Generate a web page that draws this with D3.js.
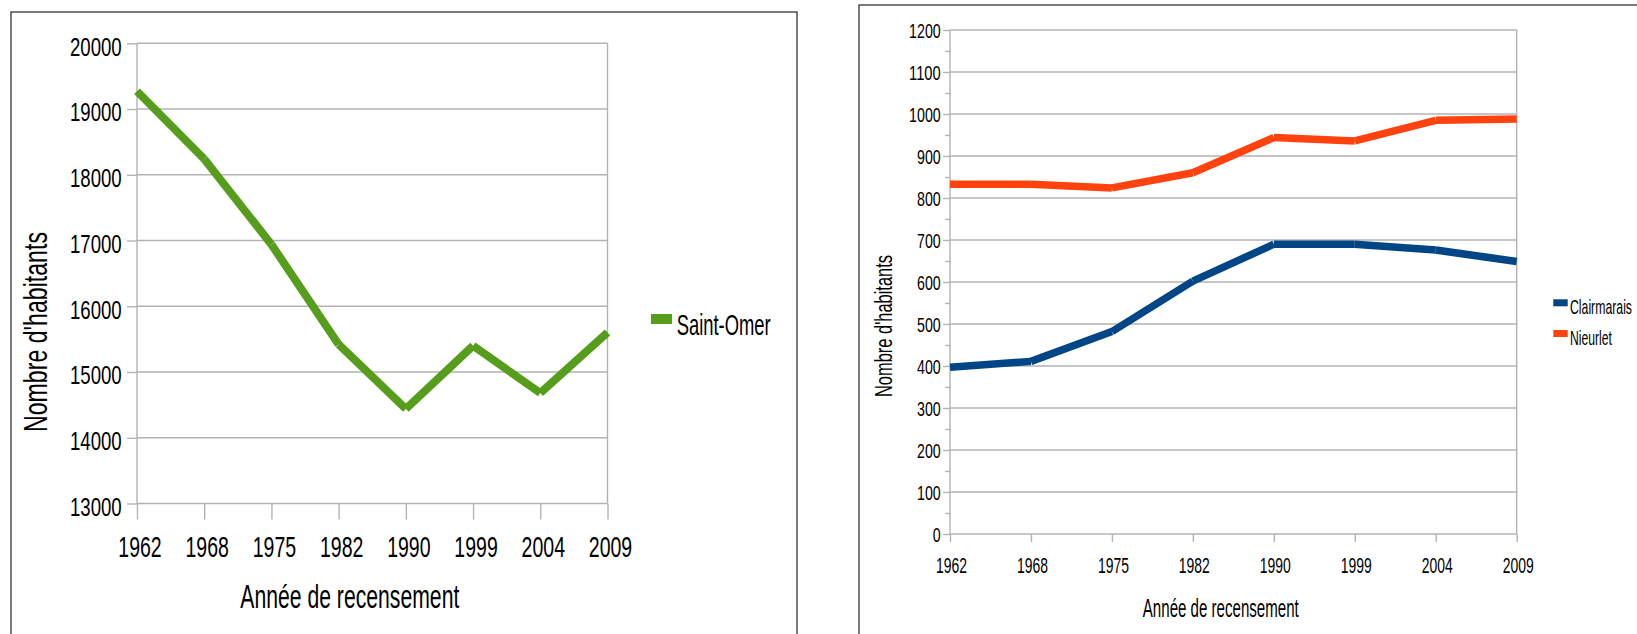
<!DOCTYPE html>
<html><head><meta charset="utf-8">
<script src="https://cdn.jsdelivr.net/npm/d3@7/dist/d3.min.js"></script>
<style>
body{margin:0;background:#fff}
svg{display:block}
text{font-family:"Liberation Sans",Arial,sans-serif;fill:#000}
</style>
</head><body>
<svg id="c" width="1637" height="634"></svg>
<script>
// ---------- data ----------
const years = ["1962","1968","1975","1982","1990","1999","2004","2009"];
const saintOmer = [19270, 18240, 16940, 15420, 14440, 15400, 14680, 15600];
const clairmarais = [397, 411, 482, 602, 690, 690, 676, 649];
const nieurlet = [833, 833, 824, 860, 944, 936, 985, 988];
const leftTicks = [13000, 14000, 15000, 16000, 17000, 18000, 19000, 20000];
const rightTicks = [0, 100, 200, 300, 400, 500, 600, 700, 800, 900, 1000, 1100, 1200];
const rightMinor = [50, 150, 250, 350, 450, 550, 650, 750, 850, 950, 1050, 1150];
const xTitle = "Année de recensement";
const yTitle = "Nombre d'habitants";
const seriesLeft = [{name: "Saint-Omer", values: saintOmer, color: "#579d1c"}];
const seriesRight = [
  {name: "Clairmarais", values: clairmarais, color: "#004586"},
  {name: "Nieurlet", values: nieurlet, color: "#ff420e"}
];

const svg = d3.select("#c");
const GRID = "#b3b3b3";

function label(g, str, x, y, size, len, rotate) {
  const t = g.append("text")
    .attr("x", x).attr("y", y)
    .attr("font-size", size)
    .attr("textLength", len)
    .attr("lengthAdjust", "spacingAndGlyphs")
    .text(str);
  if (rotate) t.attr("transform", `rotate(-90 ${x} ${y})`);
  return t;
}

function panel(cfg) {
  const g = svg.append("g");
  // frame
  g.append("rect").attr("x", cfg.frame[0]).attr("y", cfg.frame[1])
    .attr("width", cfg.frame[2]).attr("height", cfg.frame[3])
    .attr("fill", "none").attr("stroke", "#222").attr("stroke-width", 1.2);

  const x = d3.scalePoint().domain(years).range([cfg.x0, cfg.x1]).padding(0);
  const y = d3.scaleLinear().domain(cfg.domain).range([cfg.yb, cfg.yt]);

  // gridlines
  g.append("g").selectAll("line").data(cfg.ticks).join("line")
    .attr("x1", cfg.x0).attr("x2", cfg.x1)
    .attr("y1", d => y(d)).attr("y2", d => y(d))
    .attr("stroke", GRID).attr("stroke-width", 1.4);

  // left axis ticks
  const ay = g.append("g").attr("transform", `translate(${cfg.x0},0)`)
    .call(d3.axisLeft(y).tickValues(cfg.ticks).tickSize(cfg.majorTick).tickFormat(""));
  ay.select(".domain").remove();
  ay.selectAll("line").attr("stroke", GRID).attr("stroke-width", 1.4);
  if (cfg.minor) {
    const am = g.append("g").attr("transform", `translate(${cfg.x0},0)`)
      .call(d3.axisLeft(y).tickValues(cfg.minor).tickSize(cfg.minorTick).tickFormat(""));
    am.select(".domain").remove();
    am.selectAll("line").attr("stroke", GRID).attr("stroke-width", 1.4);
  }
  // bottom axis ticks (category boundaries)
  const ax = g.append("g").attr("transform", `translate(0,${cfg.yb})`)
    .call(d3.axisBottom(x).tickSize(cfg.xTick).tickFormat(""));
  ax.select(".domain").remove();
  ax.selectAll("line").attr("stroke", GRID).attr("stroke-width", 1.4);
  // vertical plot edges
  g.append("line").attr("x1", cfg.x0).attr("x2", cfg.x0).attr("y1", cfg.yt).attr("y2", cfg.yb)
    .attr("stroke", GRID).attr("stroke-width", 1.4);
  g.append("line").attr("x1", cfg.x1).attr("x2", cfg.x1).attr("y1", cfg.yt).attr("y2", cfg.yb)
    .attr("stroke", GRID).attr("stroke-width", 1.4);

  // y labels
  cfg.ticks.forEach(v => {
    const s = String(v);
    const len = s.length * cfg.yDigit;
    label(g, s, cfg.yLabRight - len, y(v) + cfg.yLabDy, cfg.yLabSize, len);
  });
  // x labels
  years.forEach(yr => {
    const len = yr.length * cfg.xDigit;
    label(g, yr, x(yr) + cfg.xLabDx - len / 2, cfg.xLabBase, cfg.xLabSize, len);
  });

  // series lines (segment by segment, butt ends)
  const line = d3.line();
  cfg.series.forEach(s => {
    const pts = years.map((yr, i) => [x(yr), y(s.values[i])]);
    g.append("g").selectAll("path").data(d3.pairs(pts)).join("path")
      .attr("d", d => line(d))
      .attr("fill", "none").attr("stroke", s.color)
      .attr("stroke-width", cfg.lineW).attr("stroke-linecap", "butt");
  });

  // titles
  label(g, xTitle, cfg.xTitle[0], cfg.xTitle[1], cfg.xTitle[2], cfg.xTitle[3]);
  label(g, yTitle, cfg.yTitle[0], cfg.yTitle[1], cfg.yTitle[2], cfg.yTitle[3], true);

  // legend
  cfg.series.forEach((s, i) => {
    const L = cfg.legend;
    const yy = L.y + i * L.step;
    g.append("rect").attr("x", L.x).attr("y", yy).attr("width", L.w).attr("height", L.h)
      .attr("fill", s.color);
    label(g, s.name, L.tx, yy + L.tdy, L.size, L.lens[i]);
  });
}

panel({
  frame: [11, 12, 786, 700],
  x0: 137, x1: 607.5, yt: 43.3, yb: 503.5,
  domain: [13000, 20000], ticks: leftTicks, majorTick: 10, xTick: 16,
  yDigit: 10.35, yLabRight: 121.7, yLabDy: 12.3, yLabSize: 25.5,
  xDigit: 10.85, xLabDx: 3, xLabBase: 557.3, xLabSize: 29.8,
  series: seriesLeft, lineW: 8,
  xTitle: [240.3, 608.3, 32.5, 219],
  yTitle: [46.7, 432, 32.5, 200],
  legend: {x: 651, y: 314, w: 21, h: 10, step: 0, tx: 676.7, tdy: 21, size: 29.5, lens: [94]}
});

panel({
  frame: [859, 5, 800, 700],
  x0: 950, x1: 1516.7, yt: 30, yb: 534,
  domain: [0, 1200], ticks: rightTicks, minor: rightMinor, majorTick: 7, minorTick: 5, xTick: 8,
  yDigit: 7.9, yLabRight: 940.7, yLabDy: 7.5, yLabSize: 21,
  xDigit: 7.75, xLabDx: 1.5, xLabBase: 573, xLabSize: 21.5,
  series: seriesRight, lineW: 7.5,
  xTitle: [1142.8, 617, 26, 156],
  yTitle: [891.7, 397, 23, 142],
  legend: {x: 1553.3, y: 299.3, w: 14.4, h: 7, step: 30.7, tx: 1570, tdy: 14.5, size: 21, lens: [62, 42]}
});
</script>
</body></html>
